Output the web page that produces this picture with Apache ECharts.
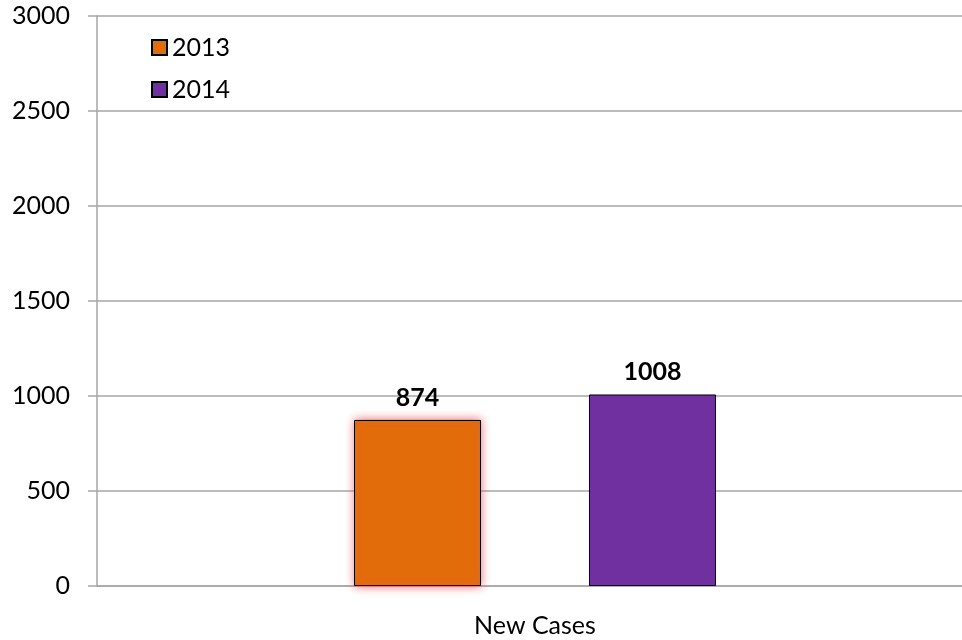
<!DOCTYPE html>
<html>
<head>
<meta charset="utf-8">
<script src="https://cdn.jsdelivr.net/npm/echarts@6/dist/echarts.min.js"></script>
<style>
  html, body { margin: 0; padding: 0; background: #fff; }
  #main { width: 962px; height: 640px; }
</style>
</head>
<body>
<div id="main"></div>
<script>
  // data
  var categories = ['New Cases']
  var seriesNames = ['2013', '2014']
  var values2013 = [874]
  var values2014 = [1008]
  var yTicks = [0, 500, 1000, 1500, 2000, 2500, 3000]

  var font = 'Lato, "Open Sans", sans-serif'
  var gridColor = '#a6a6a6'

  var chart = echarts.init(document.getElementById('main'))
  chart.setOption({
    animation: false,
    textStyle: { fontFamily: font },
    legend: {
      orient: 'vertical',
      left: 146,
      top: 30,
      icon: 'rect',
      itemWidth: 15,
      itemHeight: 15,
      itemGap: 17,
      textStyle: { fontSize: 25, color: '#000', fontFamily: font },
      data: seriesNames,
    },
    grid: {
      left: 97,
      right: -11,
      top: 16,
      bottom: 54,
      outerBoundsMode: 'none',
      containLabel: false,
    },
    xAxis: {
      type: 'category',
      data: categories,
      axisLine: { lineStyle: { color: gridColor, width: 1.5 } },
      axisTick: { show: false },
      axisLabel: { fontSize: 25, color: '#000', margin: 27 },
    },
    yAxis: {
      type: 'value',
      min: yTicks[0],
      max: yTicks[yTicks.length - 1],
      interval: 500,
      axisLine: { show: true, lineStyle: { color: gridColor, width: 1.5 } },
      axisTick: { show: true, length: 9, lineStyle: { color: gridColor, width: 1.5 } },
      splitLine: { lineStyle: { color: gridColor, width: 1.5 } },
      axisLabel: {
        fontSize: 25,
        color: '#000',
        margin: 27,
        formatter: function (v) { return String(v) },
      },
    },
    series: [
      {
        name: seriesNames[0],
        type: 'bar',
        data: values2013,
        barWidth: 127,
        barGap: '85%',
        itemStyle: {
          color: '#e36c0a',
          borderColor: '#000',
          borderWidth: 1,
          shadowColor: 'rgba(240, 80, 90, 0.85)',
          shadowBlur: 9,
        },
        label: {
          show: true,
          position: 'top',
          distance: 10,
          fontSize: 25,
          fontWeight: 'bold',
          color: '#000',
        },
      },
      {
        name: seriesNames[1],
        type: 'bar',
        data: values2014,
        barWidth: 127,
        itemStyle: {
          color: '#7030a0',
          borderColor: '#000',
          borderWidth: 1,
        },
        label: {
          show: true,
          position: 'top',
          distance: 10,
          fontSize: 25,
          fontWeight: 'bold',
          color: '#000',
        },
      },
    ],
  })
</script>
</body>
</html>
